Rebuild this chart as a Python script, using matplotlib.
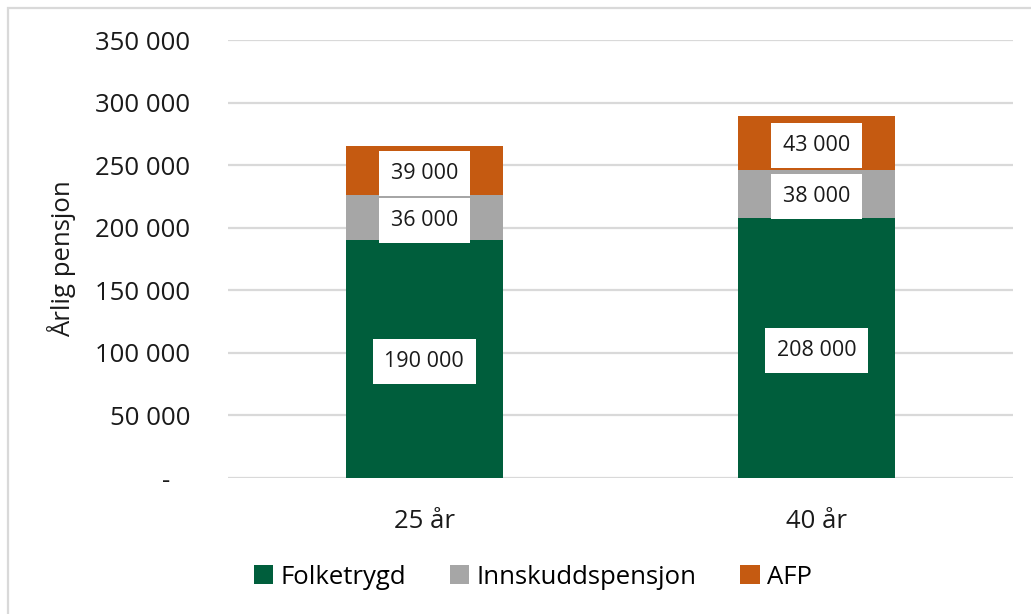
import matplotlib.pyplot as plt
from matplotlib.patches import Rectangle
from matplotlib.ticker import FuncFormatter
import numpy as np

plt.rcParams['font.family'] = ['Open Sans', 'DejaVu Sans']

categories = ['25 år', '40 år']
series = ['Folketrygd', 'Innskuddspensjon', 'AFP']
folketrygd = [190000, 208000]
innskudd = [36000, 38000]
afp = [39000, 43000]
colors = ['#005E3C', '#A6A6A6', '#C55A11']
y_ticks = [0, 50000, 100000, 150000, 200000, 250000, 300000, 350000]


def fmt(v, pos=None):
    if v == 0:
        return '-   '
    return f'{int(v):,}'.replace(',', ' ')


fig = plt.figure(figsize=(10.31, 6.14), dpi=100)
ax = fig.add_axes([228 / 1031, 1 - 478 / 614, 785 / 1031, 438 / 614])

x = np.arange(len(categories))
bottom = np.zeros(len(categories))
for name, vals, c in zip(series, [folketrygd, innskudd, afp], colors):
    ax.bar(x, vals, width=0.4, bottom=bottom, color=c, label=name, zorder=3)
    for xi, b, v in zip(x, bottom, vals):
        ax.text(xi, b + v / 2, fmt(v), ha='center', va='center_baseline',
                fontsize=15.5, color='#1a1a1a', zorder=4,
                bbox=dict(boxstyle='square,pad=0.55', fc='white', ec='none'))
    bottom += np.array(vals)

ax.set_xlim(-0.5, 1.5)
ax.set_ylim(0, 350000)
ax.set_yticks(y_ticks)
ax.yaxis.set_major_formatter(FuncFormatter(fmt))
ax.set_xticks(x)
ax.set_xticklabels(categories)
ax.tick_params(axis='y', length=0, pad=27, labelsize=18.5, labelcolor='#1a1a1a')
ax.tick_params(axis='x', length=0, pad=22, labelsize=18.5, labelcolor='#1a1a1a')
ax.grid(axis='y', color='#D9D9D9', linewidth=1.6, zorder=0)
for s in ax.spines.values():
    s.set_visible(False)
ax.set_ylabel('Årlig pensjon', fontsize=18.5, color='#1a1a1a')
ax.yaxis.set_label_coords(-0.193, 0.5)

fig.legend(loc='center', bbox_to_anchor=(533 / 1031, 1 - 577 / 614), ncol=3,
           frameon=False, fontsize=18.5, handlelength=0.75, handleheight=0.75,
           handletextpad=0.3, columnspacing=1.7)

fig.patches.append(Rectangle((8 / 1031, -0.1), 1.2, 1 - 8 / 614 + 0.1,
                             transform=fig.transFigure, fill=False,
                             ec='#D9D9D9', lw=1.6))

fig.savefig('out.png', dpi=100)
